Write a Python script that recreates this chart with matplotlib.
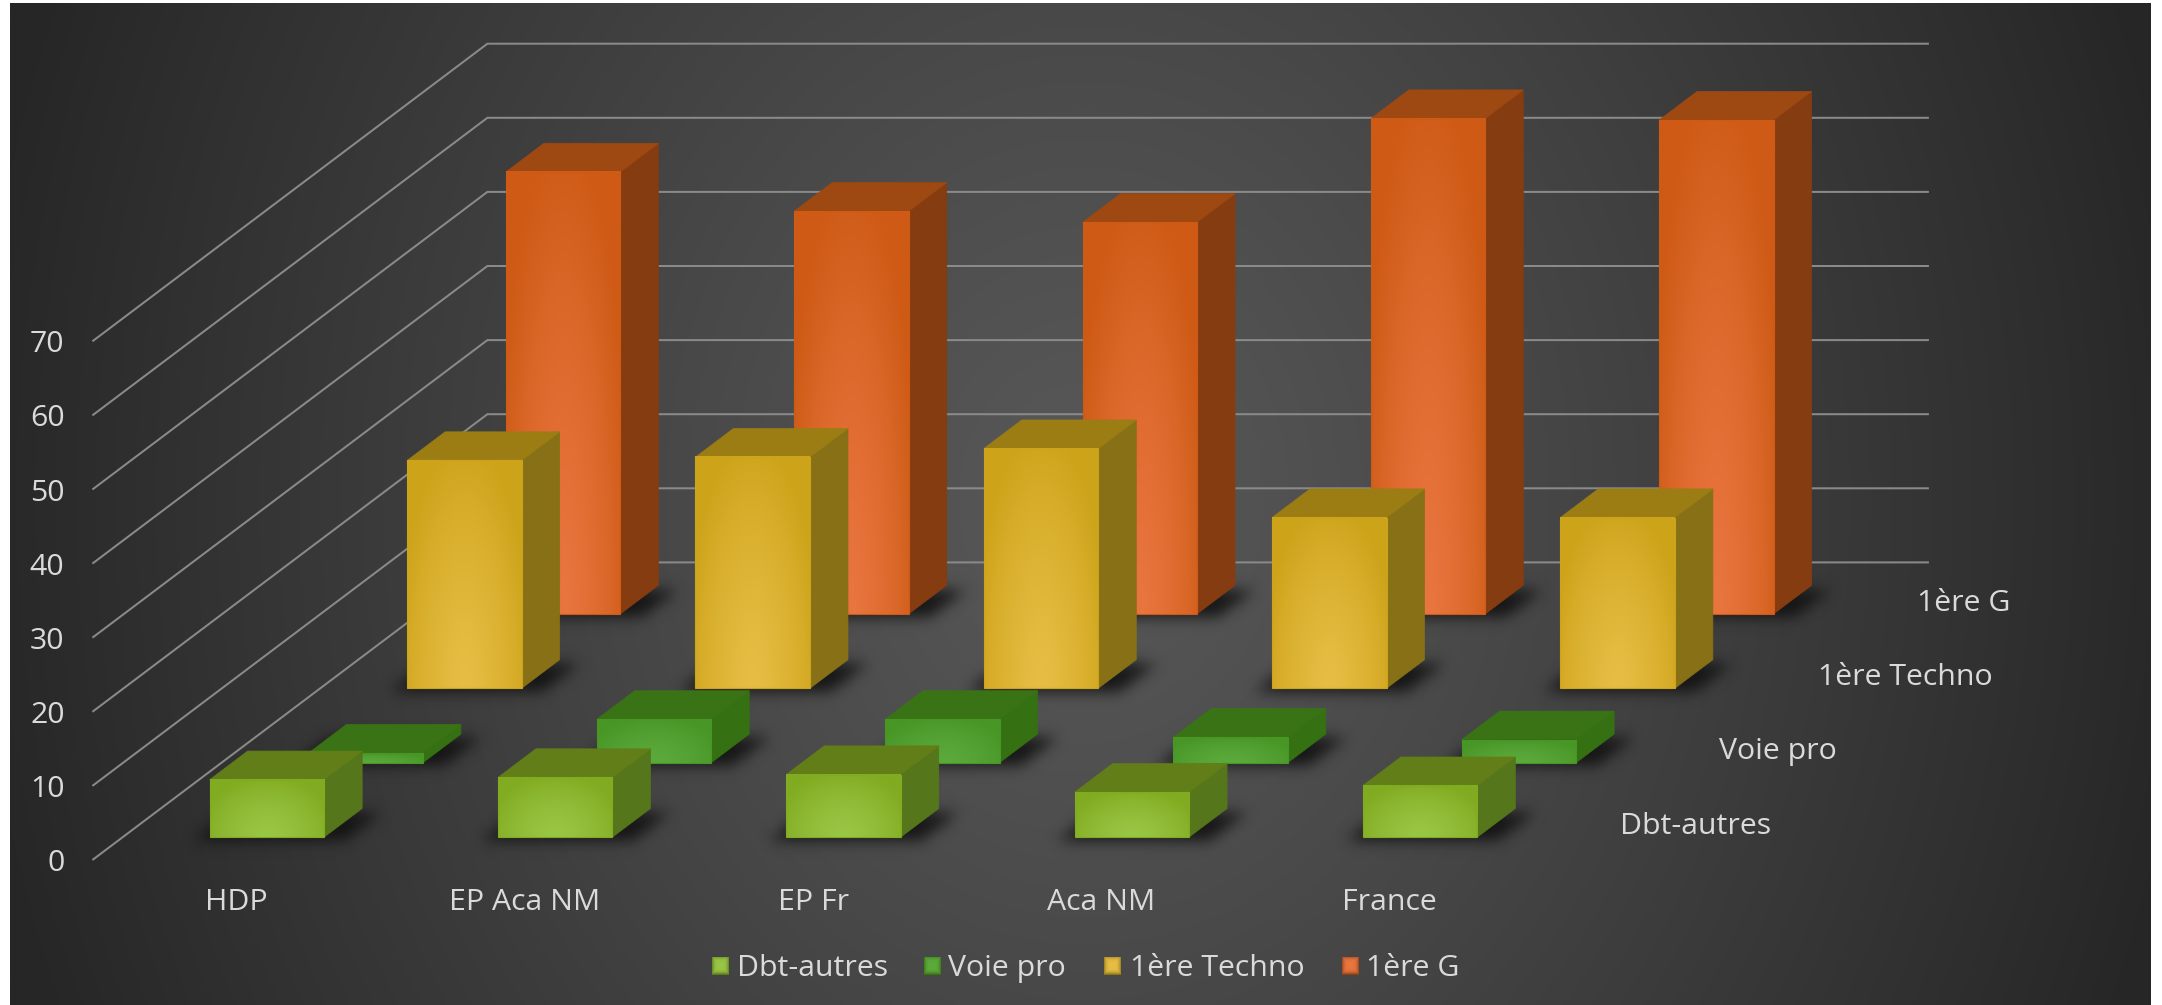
import numpy as np
import matplotlib
matplotlib.use("Agg")
import matplotlib.pyplot as plt
from matplotlib.patches import Polygon, Rectangle
from matplotlib.transforms import Affine2D

plt.rcParams['font.family'] = ['Open Sans', 'DejaVu Sans']

categories = ["HDP", "EP Aca NM", "EP Fr", "Aca NM", "France"]
series_names = ["Dbt-autres", "Voie pro", "1ère Techno", "1ère G"]
dbt_autres = [7.75, 8.05, 8.45, 6.05, 6.95]
voie_pro = [1.3, 5.85, 5.85, 3.45, 3.1]
premiere_techno = [30.75, 31.2, 32.35, 23.05, 23.05]
premiere_g = [59.65, 54.35, 52.85, 66.85, 66.65]
y_ticks = [0, 10, 20, 30, 40, 50, 60, 70]
series_values = [dbt_autres, voie_pro, premiere_techno, premiere_g]

# face light, face dark, side, top
palette = [
    ("#9AC646", "#81AB20", "#56761B", "#627E18"),
    ("#5CAA3C", "#479626", "#357012", "#3A7315"),
    ("#E7BD44", "#CDA31A", "#877016", "#9B7D14"),
    ("#E9753F", "#CE5A15", "#853C10", "#9E4812"),
]

W, H = 2162, 1005
BG_L, BG_R, BG_T = 10, 2151, 4
# oblique projection constants (pixels)
X0, Y0 = 92.4, 860.0
CAT_PX, DEPTH_DX, DEPTH_DY, V_PX = 288.3, 98.75, 74.4, 7.41
BAR_W = 114.5 / CAT_PX
BAR_D = 0.385
TEXT = "#DADADA"
GRID = "#8A8A8A"
FS = 21.8

fig = plt.figure(figsize=(W / 100, H / 100), dpi=100, facecolor="white")
ax = fig.add_axes([0, 0, 1, 1])
ax.set_xlim(-X0 / CAT_PX, (W - X0) / CAT_PX)
ax.set_ylim((Y0 - H) / V_PX, Y0 / V_PX)
ax.axis("off")
px = Affine2D().scale(1, -1).translate(0, H)


def project(c, d, v):
    return c + d * DEPTH_DX / CAT_PX, v + d * DEPTH_DY / V_PX


def to_px(x, y):
    return X0 + x * CAT_PX, Y0 - y * V_PX


def hex2rgb(h):
    return np.array(matplotlib.colors.to_rgb(h))


def gradient_image(light, dark, tfun, n=(64, 64)):
    yy, xx = np.mgrid[0:1:complex(n[0]), 0:1:complex(n[1])]
    t = np.clip(tfun(xx, yy), 0, 1)[..., None]
    return hex2rgb(light) * (1 - t) + hex2rgb(dark) * t


# background: radial gradient
yy, xx = np.mgrid[BG_T:H:256j, BG_L:BG_R:512j]
t = np.sqrt(((xx - 1085) / 1130) ** 2 + ((yy - 500) / 1350) ** 2)
t = np.clip(t, 0, 1)[..., None] ** 1.15
bg = hex2rgb("#585858") * (1 - t) + hex2rgb("#262626") * t
ax.imshow(bg, extent=((BG_L - X0) / CAT_PX, (BG_R - X0) / CAT_PX, (Y0 - H) / V_PX, (Y0 - BG_T) / V_PX),
          origin="upper", aspect="auto", zorder=0, interpolation="bilinear")

# walls' gridlines
n_depth = len(series_names)
n_cat = len(categories)
for v in y_ticks:
    a = project(0, 0, v)
    b = project(0, n_depth, v)
    c = project(n_cat, n_depth, v)
    ax.plot([a[0], b[0], c[0]], [a[1], b[1], c[1]], color=GRID, lw=1.45, zorder=1,
            solid_joinstyle="miter", solid_capstyle="butt")
    ax.text(64.5, Y0 - v * V_PX + 11, str(v), transform=px, ha="right", va="baseline",
            fontsize=FS, color=TEXT, zorder=50)


def blur(a, s):
    k = np.exp(-0.5 * (np.arange(-3 * s, 3 * s + 1) / s) ** 2)
    k /= k.sum()
    a = np.apply_along_axis(lambda m: np.convolve(m, k, mode="same"), 0, a)
    return np.apply_along_axis(lambda m: np.convolve(m, k, mode="same"), 1, a)


def draw_shadow(c, d, z):
    # footprint of the bar, slightly grown, blurred, in pixels
    corners = [project(c, d, 0), project(c + BAR_W, d, 0),
               project(c + BAR_W, d + BAR_D, 0), project(c, d + BAR_D, 0)]
    p = np.array([to_px(*q) for q in corners])
    pad = 50
    x0, x1 = int(p[:, 0].min()) - pad, int(p[:, 0].max()) + pad
    y0, y1 = int(p[:, 1].min()) - pad, int(p[:, 1].max()) + pad
    gy, gx = np.mgrid[y0:y1, x0:x1]
    u = (gx + 0.5 - p[0, 0] - (p[0, 1] - gy - 0.5) * DEPTH_DX / DEPTH_DY) / (p[1, 0] - p[0, 0])
    w = (p[0, 1] - gy - 0.5) / (p[0, 1] - p[3, 1])
    mask = ((u > -0.1) & (u < 1.22) & (w > -0.12) & (w < 0.85)).astype(float)
    a = blur(mask, 7) * 0.92
    img = np.zeros(a.shape + (4,))
    img[..., :3] = 0.07
    img[..., 3] = a
    ext = ((x0 - X0) / CAT_PX, (x1 - X0) / CAT_PX, (Y0 - y1) / V_PX, (Y0 - y0) / V_PX)
    ax.imshow(img, extent=ext, origin="upper", aspect="auto", zorder=z, interpolation="bilinear")


def face_t(xx, yy):
    # brightest at the bottom centre of the front face
    r = np.sqrt(((xx - 0.5) / 0.62) ** 2 + ((1 - yy) / 1.1) ** 2)
    return r ** 1.4


def draw_bar(c, d, v, cols, z):
    light, dark, side, top = cols
    fl, fr = project(c, d, 0), project(c + BAR_W, d, 0)
    ftl, ftr = project(c, d, v), project(c + BAR_W, d, v)
    btl, btr = project(c, d + BAR_D, v), project(c + BAR_W, d + BAR_D, v)
    br = project(c + BAR_W, d + BAR_D, 0)
    ax.add_patch(Polygon([fr, br, btr, ftr], closed=True, fc=side, ec=side, lw=0.5, zorder=z))
    ax.add_patch(Polygon([ftl, ftr, btr, btl], closed=True, fc=top, ec=top, lw=0.5, zorder=z))
    img = gradient_image(light, dark, face_t)
    ax.imshow(img, extent=(fl[0], fr[0], fl[1], ftl[1]), origin="upper", aspect="auto",
              zorder=z, interpolation="bilinear")
    ax.add_patch(Rectangle(fl, fr[0] - fl[0], ftl[1] - fl[1], fill=False, ec=dark, lw=0.8, zorder=z + 0.1))


z = 2
for d in range(n_depth - 1, -1, -1):
    offs = (1 - BAR_D) / 2
    for i in range(n_cat):
        draw_shadow(i + (1 - BAR_W) / 2, d + offs, z)
    z += 1
    for i in range(n_cat):
        draw_bar(i + (1 - BAR_W) / 2, d + offs, series_values[d][i], palette[d], z)
    z += 1

# category labels
for i, name in enumerate(categories):
    x = X0 + (i + 0.5) * CAT_PX
    ax.text(x, 910, name, transform=px, ha="center", va="baseline", fontsize=FS, color=TEXT, zorder=50)

# depth labels
for d, name in enumerate(series_names):
    xp, yp = to_px(*project(n_cat, d + 0.5, 0))
    ax.text(xp + 37, yp + 11, name, transform=px, ha="left", va="baseline", fontsize=FS, color=TEXT, zorder=50)

# legend
legend_sq = [712.3, 923.7, 1103.7, 1342.0]
legend_tx = [736.7, 948.0, 1129.7, 1366.5]
for k, name in enumerate(series_names):
    light, dark, side, top = palette[k]
    xa = (legend_sq[k] - X0) / CAT_PX
    xb = (legend_sq[k] + 17 - X0) / CAT_PX
    ya = (Y0 - 975) / V_PX
    yb = (Y0 - 957) / V_PX
    ax.imshow(gradient_image(light, side, lambda a, b: (np.maximum(np.abs(a - .5), np.abs(b - .45)) * 1.9) ** 4),
              extent=(xa, xb, ya, yb), origin="upper", aspect="auto", zorder=50, interpolation="bilinear")
    ax.text(legend_tx[k], 976, name, transform=px, ha="left", va="baseline", fontsize=FS, color=TEXT, zorder=50)

ax.set_xlim(-X0 / CAT_PX, (W - X0) / CAT_PX)
ax.set_ylim((Y0 - H) / V_PX, Y0 / V_PX)
fig.savefig("out.png", dpi=100, facecolor="white")
